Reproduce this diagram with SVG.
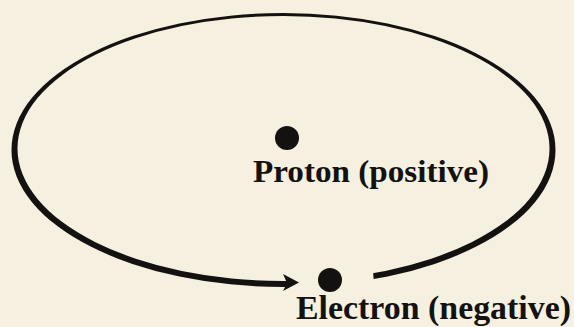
<svg xmlns="http://www.w3.org/2000/svg" width="574" height="327" viewBox="0 0 574 327">
<style>
.ink{fill:#141210;}
.lbl{font-family:"Liberation Serif","Times New Roman",serif;font-weight:bold;fill:#141210;}
</style>
<defs>
<mask id="gap" maskUnits="userSpaceOnUse" x="0" y="0" width="574" height="327">
<rect width="574" height="327" fill="#fff"/>
<polygon points="287,255 372,255 375,300 287,300" fill="#000"/>
</mask>
</defs>
<rect width="574" height="327" fill="#f6f0e1"/>
<g id="connectors">
<path id="orbit" class="ink" fill-rule="evenodd" mask="url(#gap)" d="M11.5,150 A272,137 0 1 0 555.5,150 A272,137 0 1 0 11.5,150 Z M17.5,148.5 A266,132.5 0 1 0 549.5,148.5 A266,132.5 0 1 0 17.5,148.5 Z"/>
<polygon class="ink" points="299,282.5 283,274 287,283 283,291"/>
</g>
<g id="proton">
<circle class="ink" cx="287" cy="138" r="12"/>
<text class="lbl" x="253" y="182" font-size="31" textLength="236" lengthAdjust="spacingAndGlyphs">Proton (positive)</text>
</g>
<g id="electron">
<circle class="ink" cx="330" cy="280" r="12"/>
<text class="lbl" x="296" y="319" font-size="33" textLength="275" lengthAdjust="spacingAndGlyphs">Electron (negative)</text>
</g>
</svg>
